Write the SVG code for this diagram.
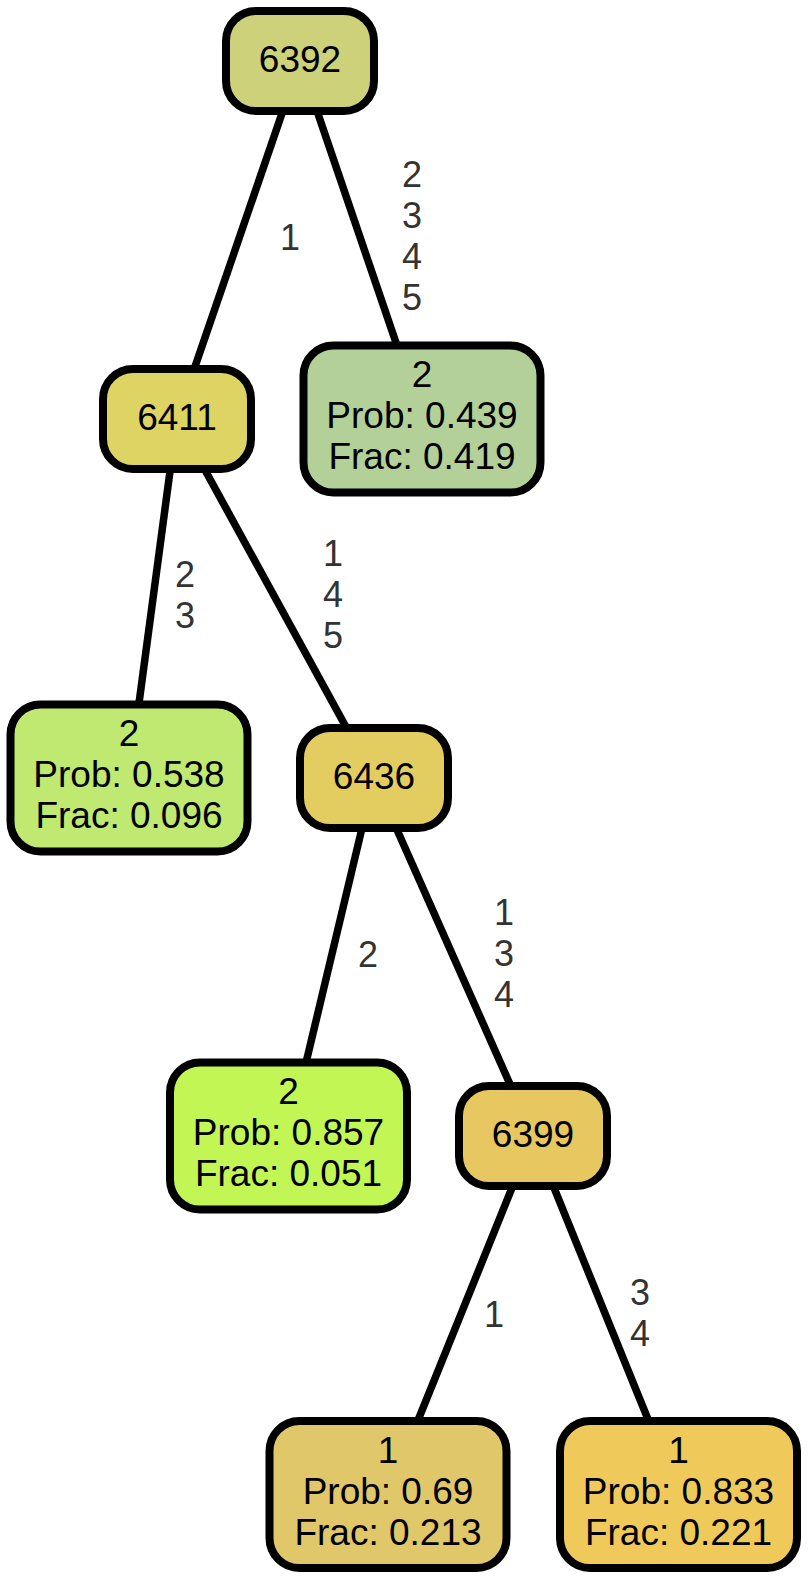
<svg xmlns="http://www.w3.org/2000/svg" width="808" height="1579" viewBox="0 0 808 1579">
<style>
.n rect{stroke:#000;stroke-width:8}
.n text{font-family:"Liberation Sans",Arial,Helvetica,sans-serif;font-size:37px;fill:#000;text-anchor:middle}
.e line{stroke:#000;stroke-width:7.5}
.e text{font-family:"Liberation Sans",Arial,Helvetica,sans-serif;font-size:36px;fill:#333;text-anchor:middle}
</style>
<rect width="808" height="1579" fill="#fff"/>
<g id="edges" class="e">
<line x1="300" y1="61" x2="177" y2="419"/>
<line x1="300" y1="61" x2="422" y2="419"/>
<line x1="177" y1="419" x2="129" y2="778"/>
<line x1="177" y1="419" x2="374" y2="778"/>
<line x1="374" y1="778" x2="288.5" y2="1136"/>
<line x1="374" y1="778" x2="533" y2="1136"/>
<line x1="533" y1="1136" x2="388" y2="1494.5"/>
<line x1="533" y1="1136" x2="678.5" y2="1494.5"/>
<text x="290" y="250">1</text>
<text x="412" y="187">2</text><text x="412" y="228">3</text><text x="412" y="269">4</text><text x="412" y="310">5</text>
<text x="185" y="587">2</text><text x="185" y="628">3</text>
<text x="333" y="566">1</text><text x="333" y="607">4</text><text x="333" y="648">5</text>
<text x="368" y="967">2</text>
<text x="504" y="925">1</text><text x="504" y="966">3</text><text x="504" y="1007">4</text>
<text x="494" y="1327">1</text>
<text x="640" y="1305">3</text><text x="640" y="1346">4</text>
</g>
<g id="n6392" class="n"><rect x="226" y="11" width="148" height="100" rx="30" fill="#CDD27A"/><text x="300" y="72">6392</text></g>
<g id="n6411" class="n"><rect x="103" y="369" width="148" height="100" rx="30" fill="#DDD464"/><text x="177" y="430">6411</text></g>
<g id="leaf_a" class="n"><rect x="303.5" y="345.5" width="237" height="147" rx="30" fill="#B3D098"/><text x="422" y="387">2</text><text x="422" y="428">Prob: 0.439</text><text x="422" y="469">Frac: 0.419</text></g>
<g id="leaf_b" class="n"><rect x="10.5" y="704.5" width="237" height="147" rx="30" fill="#BFE971"/><text x="129" y="746">2</text><text x="129" y="787">Prob: 0.538</text><text x="129" y="828">Frac: 0.096</text></g>
<g id="n6436" class="n"><rect x="300" y="728" width="148" height="100" rx="30" fill="#E3CD60"/><text x="374" y="789">6436</text></g>
<g id="leaf_c" class="n"><rect x="170" y="1062.5" width="237" height="147" rx="30" fill="#C2F655"/><text x="288.5" y="1104">2</text><text x="288.5" y="1145">Prob: 0.857</text><text x="288.5" y="1186">Frac: 0.051</text></g>
<g id="n6399" class="n"><rect x="459" y="1086" width="148" height="100" rx="30" fill="#E7C860"/><text x="533" y="1147">6399</text></g>
<g id="leaf_d" class="n"><rect x="269.5" y="1421" width="237" height="147" rx="30" fill="#DFC76A"/><text x="388" y="1463">1</text><text x="388" y="1504">Prob: 0.69</text><text x="388" y="1545">Frac: 0.213</text></g>
<g id="leaf_e" class="n"><rect x="560" y="1421" width="237" height="147" rx="30" fill="#EFCA5A"/><text x="678.5" y="1463">1</text><text x="678.5" y="1504">Prob: 0.833</text><text x="678.5" y="1545">Frac: 0.221</text></g>
</svg>
